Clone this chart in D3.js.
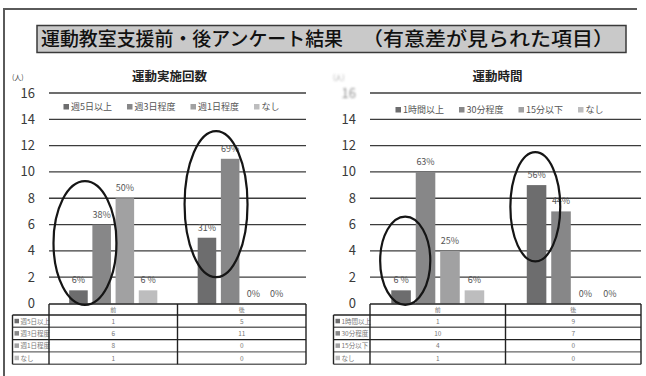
<!DOCTYPE html>
<html>
<head>
<meta charset="utf-8">
<script src="https://cdn.jsdelivr.net/npm/d3@7/dist/d3.min.js"></script>
<style>
  html, body { margin: 0; padding: 0; background: #fff; }
  svg { display: block; font-family: "Noto Sans CJK JP", "Noto Sans", sans-serif; }
</style>
</head>
<body>
<svg id="chart" width="646" height="376"></svg>
<script>
// ---- data ----
const titleMain = "運動教室支援前・後アンケート結果";
const titleSub = "（有意差が見られた項目）";
const groups = ["前", "後"];
const yTicks = [0, 2, 4, 6, 8, 10, 12, 14, 16];

const freqTitle = "運動実施回数";
const freqSeries = ["週5日以上", "週3日程度", "週1日程度", "なし"];
const freqValues = [[1, 5], [6, 11], [8, 0], [1, 0]];          // [前, 後] per series
const freqLabels = [["6%", "31%"], ["38%", "69%"], ["50%", "0%"], ["6 %", "0%"]];

const timeTitle = "運動時間";
const timeSeries = ["1時間以上", "30分程度", "15分以下", "なし"];
const timeValues = [[1, 9], [10, 7], [4, 0], [1, 0]];
const timeLabels = [["6 %", "56%"], ["63%", "44%"], ["25%", "0%"], ["6%", "0%"]];

const seriesColors = ["#6d6d6e", "#878788", "#a1a1a2", "#bdbdbe"];

const svg = d3.select("#chart");

// blur used on the faded axis caption of the second panel
svg.append("defs").append("filter").attr("id", "soft")
  .append("feGaussianBlur").attr("stdDeviation", 0.9);

// outer frame (top and left rules)
svg.append("path")
  .attr("d", "M4,376 V9 H637")
  .attr("fill", "none").attr("stroke", "#5a5a5a").attr("stroke-width", 2);

// title box
svg.append("rect").attr("x", 37).attr("y", 25.5).attr("width", 589).attr("height", 27)
  .attr("fill", "#c9c9c9").attr("stroke", "#3a3a3a").attr("stroke-width", 1.5);
svg.append("text").attr("x", 41).attr("y", 46).attr("font-size", 19).attr("font-weight", 500)
  .attr("fill", "#111").attr("textLength", 302).attr("lengthAdjust", "spacingAndGlyphs").text(titleMain);
svg.append("text").attr("x", 362).attr("y", 46).attr("font-size", 19).attr("font-weight", 500)
  .attr("fill", "#111").attr("textLength", 252).attr("lengthAdjust", "spacingAndGlyphs").text(titleSub);

function drawPanel(opt) {
  const g = svg.append("g");
  const y = d3.scaleLinear().domain([0, 16]).range([303.5, 93]);
  const x0 = d3.scaleBand().domain(groups).range([opt.left, opt.right]).padding(0);
  const x1 = d3.scaleBand().domain(d3.range(opt.series.length))
    .range([0, x0.bandwidth()]).paddingInner(0.2).paddingOuter(0.87);

  // gridlines
  g.append("g").selectAll("line").data(yTicks.filter(t => t > 0)).join("line")
    .attr("x1", opt.left).attr("x2", opt.gridRight)
    .attr("y1", d => y(d)).attr("y2", d => y(d))
    .attr("stroke", "#3c3c3c").attr("stroke-width", 1.3);

  // y tick labels
  g.append("g").selectAll("text").data(yTicks).join("text")
    .attr("x", opt.left - 14).attr("y", d => y(d) + 4.5)
    .attr("text-anchor", "end").attr("font-size", 13).attr("fill", "#3a3a3a")
    .attr("filter", d => (opt.softTop && d === 16) ? "url(#soft)" : null)
    .attr("opacity", d => (opt.softTop && d === 16) ? 0.55 : 1)
    .text(d => d);
  g.append("text").attr("x", opt.left - 37).attr("y", 80).attr("font-size", 7)
    .attr("fill", "#444").attr("filter", opt.softTop ? "url(#soft)" : null)
    .attr("opacity", opt.softTop ? 0.5 : 1).text("(人)");

  // chart title
  g.append("text").attr("x", (opt.left + opt.right) / 2 - 8).attr("y", 81)
    .attr("text-anchor", "middle").attr("font-size", 12.5).attr("font-weight", 700)
    .attr("fill", "#222").text(opt.title);

  // bars
  const rows = opt.series.map((s, i) => ({ s, i }));
  rows.forEach(r => {
    groups.forEach((grp, gi) => {
      const v = opt.values[r.i][gi];
      const bx = x0(grp) + x1(r.i);
      g.append("rect").attr("x", bx).attr("y", y(v))
        .attr("width", x1.bandwidth()).attr("height", y(0) - y(v))
        .attr("fill", seriesColors[r.i]);
      g.append("text").attr("x", bx + x1.bandwidth() / 2).attr("y", y(v) - 7)
        .attr("text-anchor", "middle").attr("font-size", 9).attr("fill", "#555")
        .text(opt.labels[r.i][gi]);
    });
  });

  // legend
  const leg = g.append("g").attr("font-size", 9).attr("fill", "#555");
  let lx = 0;
  opt.series.forEach((s, i) => {
    const it = leg.append("g").attr("transform", `translate(${lx},0)`);
    it.append("rect").attr("x", 0).attr("y", -6).attr("width", 5.5).attr("height", 5.5)
      .attr("fill", seriesColors[i]);
    const t = it.append("text").attr("x", 7.5).attr("y", 0).text(s);
    lx += 7.5 + t.node().getComputedTextLength() + 15;
  });
  const legW = lx - 15;
  leg.attr("transform", `translate(${(opt.left + opt.right) / 2 - 6 - legW / 2},${opt.legendY})`);

  // data table
  const tb = g.append("g");
  const rowH = 12.3, headTop = 304, headH = 11;
  const labelLeft = opt.left - 36.5;
  tb.append("line").attr("x1", opt.left).attr("x2", opt.right).attr("y1", headTop).attr("y2", headTop)
    .attr("stroke", "#222").attr("stroke-width", 1.4);
  groups.forEach(grp => {
    tb.append("text").attr("x", x0(grp) + x0.bandwidth() / 2).attr("y", headTop + 8)
      .attr("text-anchor", "middle").attr("font-size", 6).attr("fill", "#777").text(grp);
  });
  opt.series.forEach((s, i) => {
    const top = headTop + headH + i * rowH;
    tb.append("line").attr("x1", labelLeft).attr("x2", opt.right).attr("y1", top).attr("y2", top)
      .attr("stroke", i % 2 ? "#666" : "#222").attr("stroke-width", 1.4);
    tb.append("rect").attr("x", labelLeft + 2).attr("y", top + 3.8).attr("width", 4.5).attr("height", 4.5)
      .attr("fill", seriesColors[i]);
    tb.append("text").attr("x", labelLeft + 8).attr("y", top + 8.7).attr("font-size", 6.5)
      .attr("fill", "#777").text(s);
    groups.forEach((grp, gi) => {
      tb.append("text").attr("x", x0(grp) + x0.bandwidth() / 2).attr("y", top + 8.7)
        .attr("text-anchor", "middle").attr("font-size", 6.5).attr("fill", "#777")
        .text(opt.values[i][gi]);
    });
  });
  const bottom = headTop + headH + opt.series.length * rowH;
  tb.append("line").attr("x1", labelLeft).attr("x2", opt.right).attr("y1", bottom).attr("y2", bottom)
    .attr("stroke", "#666").attr("stroke-width", 1.6);
  // vertical rules
  [[labelLeft, headTop + headH], [opt.left, headTop], [x0(groups[1]), headTop], [opt.right, headTop]]
    .forEach(([vx, vt]) => {
      tb.append("line").attr("x1", vx).attr("x2", vx).attr("y1", vt).attr("y2", bottom)
        .attr("stroke", "#222").attr("stroke-width", 1.4);
    });

  // highlight rings around the significant bars
  opt.rings.forEach(r => {
    const bx = x0(r.group), bw = x0.bandwidth();
    g.append("ellipse")
      .attr("cx", bx + r.cx * bw).attr("rx", r.rx * bw)
      .attr("cy", (y(r.top) + y(r.bottom)) / 2).attr("ry", (y(r.bottom) - y(r.top)) / 2)
      .attr("fill", "none").attr("stroke", "#151515").attr("stroke-width", 2.2);
  });
}

drawPanel({
  title: freqTitle, series: freqSeries, values: freqValues, labels: freqLabels,
  left: 49, right: 306, gridRight: 306, legendY: 110, softTop: false,
  rings: [
    { group: "前", cx: 0.28, rx: 0.245, top: 9.3, bottom: -0.1 },
    { group: "後", cx: 0.30, rx: 0.245, top: 13.1, bottom: 2.0 }
  ]
});

drawPanel({
  title: timeTitle, series: timeSeries, values: timeValues, labels: timeLabels,
  left: 370, right: 641, gridRight: 641, legendY: 113, softTop: true,
  rings: [
    { group: "前", cx: 0.26, rx: 0.185, top: 6.6, bottom: -0.1 },
    { group: "後", cx: 0.22, rx: 0.184, top: 11.5, bottom: 3.2 }
  ]
});
</script>
</body>
</html>
